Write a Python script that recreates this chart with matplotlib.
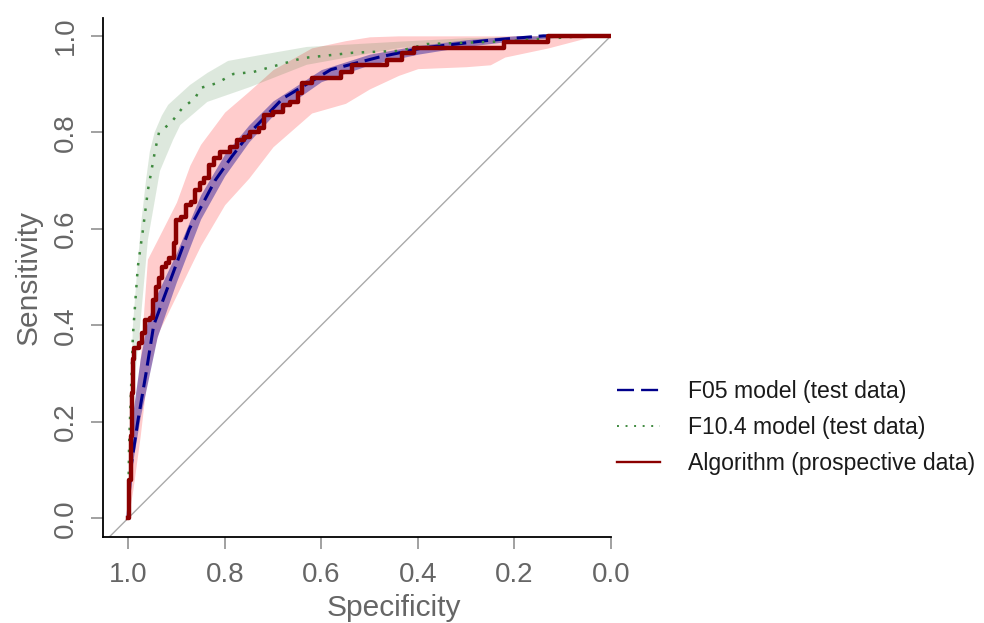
import matplotlib
matplotlib.use('Agg')
import matplotlib.pyplot as plt

plt.rcParams['font.family'] = ['Liberation Sans', 'DejaVu Sans']

# ROC curves (specificity, sensitivity)
f05_spec = [1.0, 0.995, 0.98, 0.963, 0.947, 0.91, 0.873, 0.82, 0.785, 0.747, 0.68, 0.58, 0.48, 0.39, 0.26, 0.14, 0.0]
f05_sens = [0.0, 0.1, 0.2, 0.3, 0.4, 0.5, 0.6, 0.7, 0.75, 0.8, 0.87, 0.93, 0.956, 0.975, 0.99, 1.0, 1.0]

f104_spec = [1.0, 0.998, 0.99, 0.98, 0.969, 0.959, 0.944, 0.936, 0.911, 0.888, 0.861, 0.85, 0.816,
             0.782, 0.741, 0.638, 0.534, 0.437, 0.381, 0.236, 0.106, 0.05, 0.0]
f104_sens = [0.0, 0.15, 0.38, 0.52, 0.6, 0.68, 0.763, 0.80, 0.82, 0.85, 0.871, 0.892, 0.902,
             0.921, 0.925, 0.954, 0.965, 0.969, 0.983, 0.988, 0.996, 1.0, 1.0]

alg_spec = [1.0, 0.998, 0.995, 0.992, 0.989, 0.987, 0.978, 0.972, 0.965, 0.955, 0.949, 0.943, 0.936,
            0.93, 0.922, 0.915, 0.906, 0.9, 0.89, 0.88, 0.87, 0.862, 0.852, 0.842, 0.833, 0.822,
            0.81, 0.79, 0.775, 0.76, 0.747, 0.728, 0.718, 0.70, 0.68, 0.665, 0.648, 0.64, 0.62,
            0.56, 0.537, 0.464, 0.432, 0.407, 0.222, 0.13, 0.0]
alg_sens = [0.0, 0.08, 0.17, 0.26, 0.33, 0.353, 0.363, 0.384, 0.41, 0.415, 0.452, 0.48, 0.498,
            0.52, 0.53, 0.54, 0.57, 0.618, 0.625, 0.65, 0.656, 0.68, 0.695, 0.705, 0.732, 0.747,
            0.76, 0.77, 0.784, 0.79, 0.80, 0.809, 0.836, 0.842, 0.857, 0.863, 0.882, 0.902, 0.913,
            0.925, 0.94, 0.95, 0.965, 0.975, 0.988, 1.0, 1.0]

# confidence bands for sensitivity
f05_ci_spec = [1.0, 0.99, 0.975, 0.96, 0.94, 0.9, 0.85, 0.8, 0.75, 0.7, 0.6, 0.5, 0.4, 0.3, 0.2, 0.1, 0.0]
f05_ci_low = [0.0, 0.12, 0.21, 0.28, 0.375, 0.49, 0.62, 0.71, 0.78, 0.835, 0.905, 0.94, 0.962, 0.978, 0.99, 0.998, 1.0]
f05_ci_high = [0.04, 0.22, 0.33, 0.41, 0.465, 0.55, 0.67, 0.755, 0.815, 0.865, 0.93, 0.962, 0.98, 0.992, 1.0, 1.0, 1.0]

# F10.4 band outline: upper-left edge, then lower-right edge
f104_band_top_spec = [1.0, 0.993, 0.99, 0.98, 0.972, 0.963, 0.955, 0.945, 0.93, 0.917, 0.872, 0.836,
                      0.793, 0.727, 0.63, 0.437, 0.3, 0.1, 0.0]
f104_band_top_sens = [0.0, 0.3, 0.4, 0.53, 0.62, 0.7, 0.76, 0.8, 0.835, 0.857, 0.898, 0.923,
                      0.948, 0.96, 0.977, 0.988, 0.995, 1.0, 1.0]
f104_band_bot_spec = [0.0, 0.1, 0.3, 0.437, 0.63, 0.747, 0.836, 0.892, 0.907, 0.934, 0.959, 0.975,
                      0.985, 0.995, 1.0]
f104_band_bot_sens = [1.0, 0.995, 0.985, 0.975, 0.94, 0.894, 0.863, 0.815, 0.784, 0.72, 0.577, 0.4,
                      0.3, 0.1, 0.0]

alg_ci_spec = [1.0, 0.99, 0.975, 0.96, 0.938, 0.9, 0.872, 0.85, 0.8, 0.75, 0.7, 0.62, 0.55, 0.5,
               0.44, 0.4, 0.3, 0.25, 0.22, 0.13, 0.05, 0.0]
alg_ci_low = [0.0, 0.06, 0.17, 0.30, 0.384, 0.462, 0.52, 0.565, 0.65, 0.705, 0.77, 0.84, 0.86, 0.89,
              0.918, 0.932, 0.936, 0.94, 0.956, 0.975, 0.996, 1.0]
alg_ci_high = [0.05, 0.18, 0.33, 0.537, 0.58, 0.655, 0.732, 0.775, 0.842, 0.885, 0.93, 0.975, 0.99, 0.998,
               1.0, 1.0, 1.0, 1.0, 1.0, 1.0, 1.0, 1.0]

labels = ['F05 model (test data)', 'F10.4 model (test data)', 'Algorithm (prospective data)']

fig = plt.figure(figsize=(9.84, 6.23), dpi=100)
ax = fig.add_axes([103 / 984, 1 - 537 / 623, 508 / 984, 519 / 623])

ax.fill_between(alg_ci_spec, alg_ci_low, alg_ci_high, color='#ff0000', alpha=0.2, lw=0)
ax.fill(f104_band_top_spec + f104_band_bot_spec, f104_band_top_sens + f104_band_bot_sens,
        color='#1f6b1f', alpha=0.15, lw=0)
ax.fill_between(f05_ci_spec, f05_ci_low, f05_ci_high, color='#8a6ab0', alpha=0.85, lw=0)

ax.axline((1, 0), (0, 1), color='#aaaaaa', lw=1)

ax.plot(f05_spec, f05_sens, color='#00008b', lw=2.2, dashes=(5, 2.2), label=labels[0])
ax.plot(f104_spec, f104_sens, color='#3f8a3f', lw=1.8, linestyle=(0, (1, 3.4)), label=labels[1])
ax.plot(alg_spec, alg_sens, color='#8b0000', lw=3.2, drawstyle='steps-post', label=labels[2])

ax.set_xlim(1.052, 0.0)
ax.set_ylim(-0.039, 1.037)
ticks = [1.0, 0.8, 0.6, 0.4, 0.2, 0.0]
ax.set_xticks(ticks)
ax.set_xticklabels(['%.1f' % t for t in ticks])
ax.set_yticks(ticks)
ax.set_yticklabels(['%.1f' % t for t in ticks], rotation=90, va='center')

for side in ['top', 'right']:
    ax.spines[side].set_visible(False)
for side in ['left', 'bottom']:
    ax.spines[side].set_linewidth(1.3)
    ax.spines[side].set_color('black')

ax.tick_params(axis='both', length=8.7, width=1.1, color='#888888', labelcolor='#666666', labelsize=20)
ax.tick_params(axis='x', pad=9)
ax.tick_params(axis='y', pad=8.5)

ax.set_xlabel('Specificity', fontsize=21.5, color='#666666', x=0.573, labelpad=4.5)
ax.set_ylabel('Sensitivity', fontsize=21.5, color='#666666', labelpad=7.5)

leg = fig.legend(loc='center left', bbox_to_anchor=(617 / 984, 1 - 427.5 / 623), frameon=False,
                 fontsize=16.6, handlelength=1.87, handletextpad=1.2, labelspacing=0.55,
                 borderpad=0, borderaxespad=0)
for t in leg.get_texts():
    t.set_color('#1a1a1a')
# thinner strokes in the key than on the curves
leg_lines = leg.get_lines()
leg_lines[0].set_linewidth(1.7)
leg_lines[0].set_dashes((7.2, 3.0))
leg_lines[1].set_linewidth(1.4)
leg_lines[2].set_linewidth(1.7)

fig.savefig('out.png', dpi=100)
